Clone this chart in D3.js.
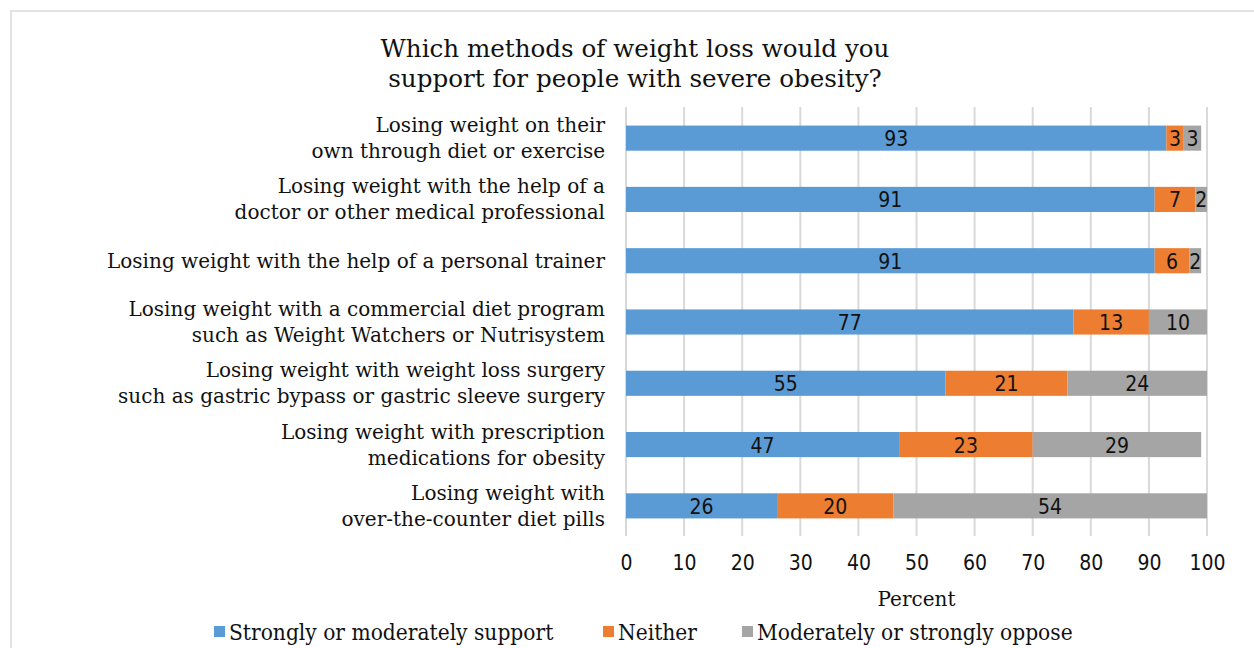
<!DOCTYPE html>
<html>
<head>
<meta charset="utf-8">
<script src="https://cdn.jsdelivr.net/npm/d3@7"></script>
<style>
  html, body { margin: 0; padding: 0; background: #fff; }
  svg { display: block; }
</style>
</head>
<body>
<svg id="chart" width="1254" height="648"></svg>
<script>
// Survey answers, percent of respondents
const categories = [
  ["Losing weight on their", "own through diet or exercise"],
  ["Losing weight with the help of a", "doctor or other medical professional"],
  ["Losing weight with the help of a personal trainer"],
  ["Losing weight with a commercial diet program", "such as Weight Watchers or Nutrisystem"],
  ["Losing weight with weight loss surgery", "such as gastric bypass or gastric sleeve surgery"],
  ["Losing weight with prescription", "medications for obesity"],
  ["Losing weight with", "over-the-counter diet pills"]
];
const support = [93, 91, 91, 77, 55, 47, 26];
const neither = [3, 7, 6, 13, 21, 23, 20];
const oppose  = [3, 2, 2, 10, 24, 29, 54];
const seriesNames = ["Strongly or moderately support", "Neither", "Moderately or strongly oppose"];
const seriesColors = ["#5b9bd5", "#ed7d31", "#a5a5a5"];
const xTicks = [0, 10, 20, 30, 40, 50, 60, 70, 80, 90, 100];
const titleLines = ["Which methods of weight loss would you", "support for people with severe obesity?"];
const xTitle = "Percent";

const serif = "'DejaVu Serif', serif";
const serifCond = "'DejaVu Serif Condensed', 'DejaVu Serif', serif";
const cond = "'DejaVu Sans Condensed', 'DejaVu Sans', sans-serif";

const svg = d3.select("#chart");

// outer frame
svg.append("rect")
  .attr("x", 11).attr("y", 11).attr("width", 1260).attr("height", 660)
  .attr("fill", "none").attr("stroke", "#d9d9d9").attr("stroke-width", 1.5);

const rows = categories.map((c, i) => ({
  key: i, label: c, values: [support[i], neither[i], oppose[i]]
}));

const x = d3.scaleLinear().domain([0, 100]).range([626, 1207]);
const y = d3.scaleBand().domain(rows.map(r => r.key)).range([107.5, 536.5]).paddingInner(0.59).paddingOuter(0.295);

// vertical gridlines
svg.append("g").selectAll("line").data(xTicks).join("line")
  .attr("x1", d => x(d)).attr("x2", d => x(d))
  .attr("y1", 107).attr("y2", 536)
  .attr("stroke", "#d9d9d9").attr("stroke-width", 2);

// stacked bars
const stack = d3.stack().keys([0, 1, 2]).value((r, k) => r.values[k]);
const layers = stack(rows);

layers.forEach((layer, li) => {
  const g = svg.append("g");
  g.selectAll("rect").data(layer).join("rect")
    .attr("x", d => x(d[0]))
    .attr("y", d => y(d.data.key))
    .attr("width", d => x(d[1]) - x(d[0]))
    .attr("height", y.bandwidth())
    .attr("fill", seriesColors[li]);
  g.selectAll("text").data(layer).join("text")
    .attr("x", d => (x(d[0]) + x(d[1])) / 2)
    .attr("y", d => y(d.data.key) + y.bandwidth() / 2 + 1)
    .attr("text-anchor", "middle")
    .attr("dominant-baseline", "central")
    .attr("font-family", cond)
    .attr("font-size", 21)
    .attr("fill", "#111")
    .text(d => d.data.values[li]);
});

// category labels
const lab = svg.append("g");
rows.forEach(r => {
  const cy = y(r.key) + y.bandwidth() / 2;
  const n = r.label.length;
  const t = lab.append("text")
    .attr("text-anchor", "end")
    .attr("font-family", serif)
    .attr("font-size", 20)
    .attr("fill", "#111");
  r.label.forEach((line, j) => {
    t.append("tspan")
      .attr("x", 605)
      .attr("y", cy + (j - (n - 1) / 2) * 26 + 7)
      .text(line);
  });
});

// x axis tick labels
const xAxis = d3.axisBottom(x).tickValues(xTicks).tickSize(0).tickPadding(0);
const ax = svg.append("g").attr("transform", "translate(0,555)").call(xAxis);
ax.select(".domain").remove();
ax.selectAll("text")
  .attr("font-family", cond).attr("font-size", 21).attr("fill", "#111").attr("dy", "0.71em");

svg.append("text")
  .attr("x", (x(0) + x(100)) / 2).attr("y", 606)
  .attr("text-anchor", "middle")
  .attr("font-family", serif).attr("font-size", 20).attr("fill", "#111")
  .text(xTitle);

// title
const title = svg.append("text")
  .attr("text-anchor", "middle")
  .attr("font-family", serif).attr("font-size", 24.6).attr("fill", "#111");
titleLines.forEach((line, j) => {
  title.append("tspan").attr("x", 635).attr("y", 57 + j * 30).text(line);
});

// legend
const legendX = [214, 603, 742];
const leg = svg.append("g");
seriesNames.forEach((name, i) => {
  leg.append("rect")
    .attr("x", legendX[i]).attr("y", 626).attr("width", 11).attr("height", 11)
    .attr("fill", seriesColors[i]);
  leg.append("text")
    .attr("x", legendX[i] + 15).attr("y", 640)
    .attr("font-family", serifCond).attr("font-size", 22.5).attr("fill", "#111")
    .text(name);
});
</script>
</body>
</html>
